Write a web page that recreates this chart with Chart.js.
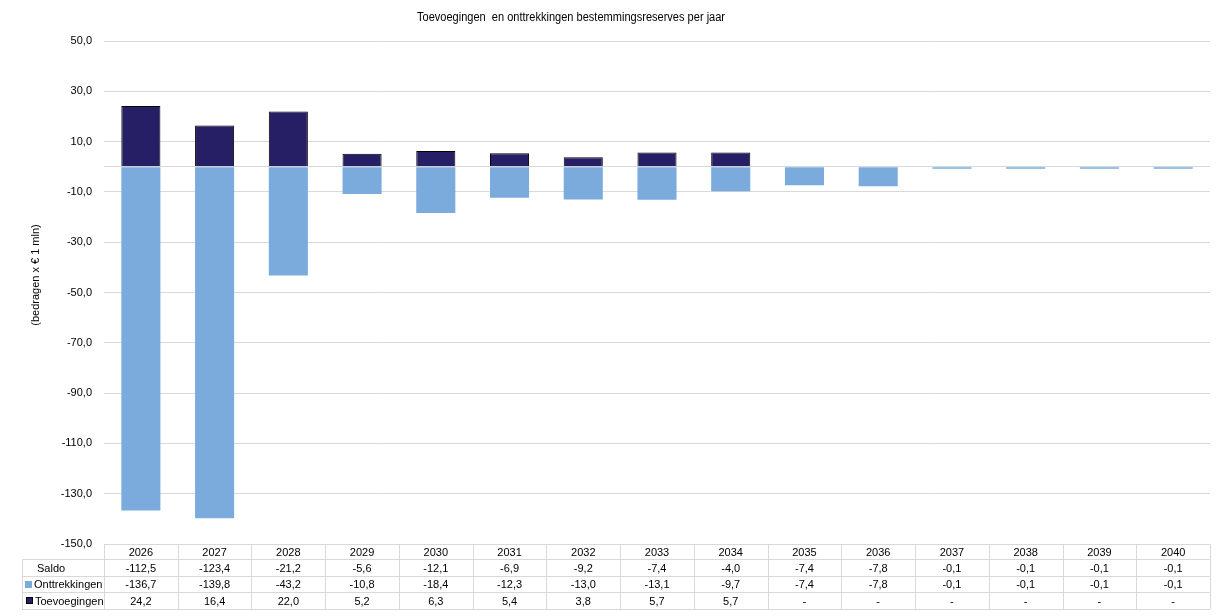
<!DOCTYPE html>
<html>
<head>
<meta charset="utf-8">
<script src="https://cdn.jsdelivr.net/npm/chart.js@4"></script>
<style>
  body { margin: 0; background: #fff; }
  #wrap { width: 1225px; height: 616px; }
</style>
</head>
<body>
<div id="wrap"><canvas id="myChart"></canvas></div>
<script>
// data
const years = ['2026', '2027', '2028', '2029', '2030', '2031', '2032', '2033', '2034', '2035', '2036', '2037', '2038', '2039', '2040'];
const toevoegingen = [24.2, 16.4, 22.0, 5.2, 6.3, 5.4, 3.8, 5.7, 5.7, null, null, null, null, null, null];
const onttrekkingen = [-136.7, -139.8, -43.2, -10.8, -18.4, -12.3, -13.0, -13.1, -9.7, -7.4, -7.8, -0.1, -0.1, -0.1, -0.1];
const saldo = [-112.5, -123.4, -21.2, -5.6, -12.1, -6.9, -9.2, -7.4, -4.0, -7.4, -7.8, -0.1, -0.1, -0.1, -0.1];

const darkBlue = '#261f66';
const lightBlue = '#7aabdc';
const gridColor = '#d9d9d9';
const font = '"Liberation Sans", Arial, sans-serif';

function fmt(v) {
    if (v === null || v === undefined) return '-';
    return v.toFixed(1).replace('.', ',');
}

const tablePlugin = {
    id: 'tablePlugin',
    afterDraw(chart) {
        const ctx = chart.ctx;
        const xs = chart.scales.x;
        const area = chart.chartArea;
        const colW = xs.getPixelForValue(1) - xs.getPixelForValue(0);
        const rows = [area.bottom, 559, 576, 592, 609];
        const tableLeft = 22;

        ctx.save();
        // title, a bit condensed like the original
        ctx.fillStyle = '#000';
        ctx.save();
        ctx.translate(571, 18);
        ctx.scale(0.92, 1);
        ctx.font = '12px ' + font;
        ctx.textAlign = 'center';
        ctx.textBaseline = 'middle';
        ctx.fillText('Toevoegingen  en onttrekkingen bestemmingsreserves per jaar', 0, 0);
        ctx.restore();

        // y axis title
        ctx.save();
        ctx.translate(36, 275);
        ctx.rotate(-Math.PI / 2);
        ctx.font = '11px ' + font;
        ctx.textAlign = 'center';
        ctx.textBaseline = 'middle';
        ctx.fillText('(bedragen x € 1 mln)', 0, 0);
        ctx.restore();

        // table lines
        ctx.strokeStyle = gridColor;
        ctx.lineWidth = 1;
        ctx.beginPath();
        ctx.moveTo(area.left, Math.round(rows[0]) + 0.5);
        ctx.lineTo(area.right, Math.round(rows[0]) + 0.5);
        for (let r = 1; r < rows.length; r++) {
            ctx.moveTo(tableLeft, rows[r] + 0.5);
            ctx.lineTo(area.right, rows[r] + 0.5);
        }
        ctx.moveTo(tableLeft + 0.5, rows[1]);
        ctx.lineTo(tableLeft + 0.5, rows[4]);
        for (let i = 0; i <= years.length; i++) {
            const x = Math.round(xs.getPixelForValue(0) - colW / 2 + i * colW) + 0.5;
            ctx.moveTo(x, rows[0]);
            ctx.lineTo(x, rows[4]);
        }
        ctx.stroke();

        // cells
        ctx.fillStyle = '#000';
        ctx.font = '11px ' + font;
        ctx.textAlign = 'center';
        ctx.textBaseline = 'middle';
        const lines = [years, saldo.map(fmt), onttrekkingen.map(fmt), toevoegingen.map(fmt)];
        for (let r = 0; r < lines.length; r++) {
            const y = (rows[r] + rows[r + 1]) / 2 + 1;
            for (let i = 0; i < years.length; i++) {
                ctx.fillText(lines[r][i], xs.getPixelForValue(i), y);
            }
        }

        // row labels with legend keys
        ctx.textAlign = 'left';
        ctx.fillText('Saldo', 37, (rows[1] + rows[2]) / 2 + 1);
        ctx.fillStyle = lightBlue;
        ctx.fillRect(25, 581, 7, 7);
        ctx.fillStyle = '#000';
        ctx.fillText('Onttrekkingen', 34, (rows[2] + rows[3]) / 2 + 1);
        ctx.fillStyle = darkBlue;
        ctx.fillRect(26, 597, 7, 7);
        ctx.strokeStyle = '#000';
        ctx.strokeRect(26.5, 597.5, 6, 6);
        ctx.fillStyle = '#000';
        ctx.fillText('Toevoegingen', 35, (rows[3] + rows[4]) / 2 + 1);
        ctx.restore();
    }
};

const ctx = document.getElementById('myChart').getContext('2d');
new Chart(ctx, {
    type: 'bar',
    data: {
        labels: years,
        datasets: [{
            label: 'Onttrekkingen',
            data: onttrekkingen,
            backgroundColor: lightBlue,
            borderWidth: 0,
            minBarLength: 2
        }, {
            label: 'Toevoegingen',
            data: toevoegingen,
            backgroundColor: darkBlue,
            borderColor: '#000',
            borderWidth: 1
        }]
    },
    options: {
        responsive: true,
        maintainAspectRatio: false,
        animation: false,
        datasets: {
            bar: { categoryPercentage: 1, barPercentage: 0.53 }
        },
        layout: { padding: { top: 41, right: 15, bottom: 72, left: 0 } },
        plugins: {
            legend: { display: false },
            title: { display: false },
            tooltip: { enabled: false }
        },
        scales: {
            x: {
                stacked: true,
                display: false
            },
            y: {
                stacked: true,
                min: -150,
                max: 50,
                afterFit(scale) { scale.width = 104; },
                afterBuildTicks(scale) {
                    scale.ticks.push({ value: 0 });
                    scale.ticks.sort((a, b) => a.value - b.value);
                },
                border: { display: false },
                grid: { color: gridColor, drawTicks: false },
                ticks: {
                    stepSize: 20,
                    padding: 12,
                    color: '#000',
                    font: { family: font, size: 11 },
                    callback: v => v === 0 ? '' : v.toFixed(1).replace('.', ',')
                }
            }
        }
    },
    plugins: [tablePlugin]
});
</script>
</body>
</html>
